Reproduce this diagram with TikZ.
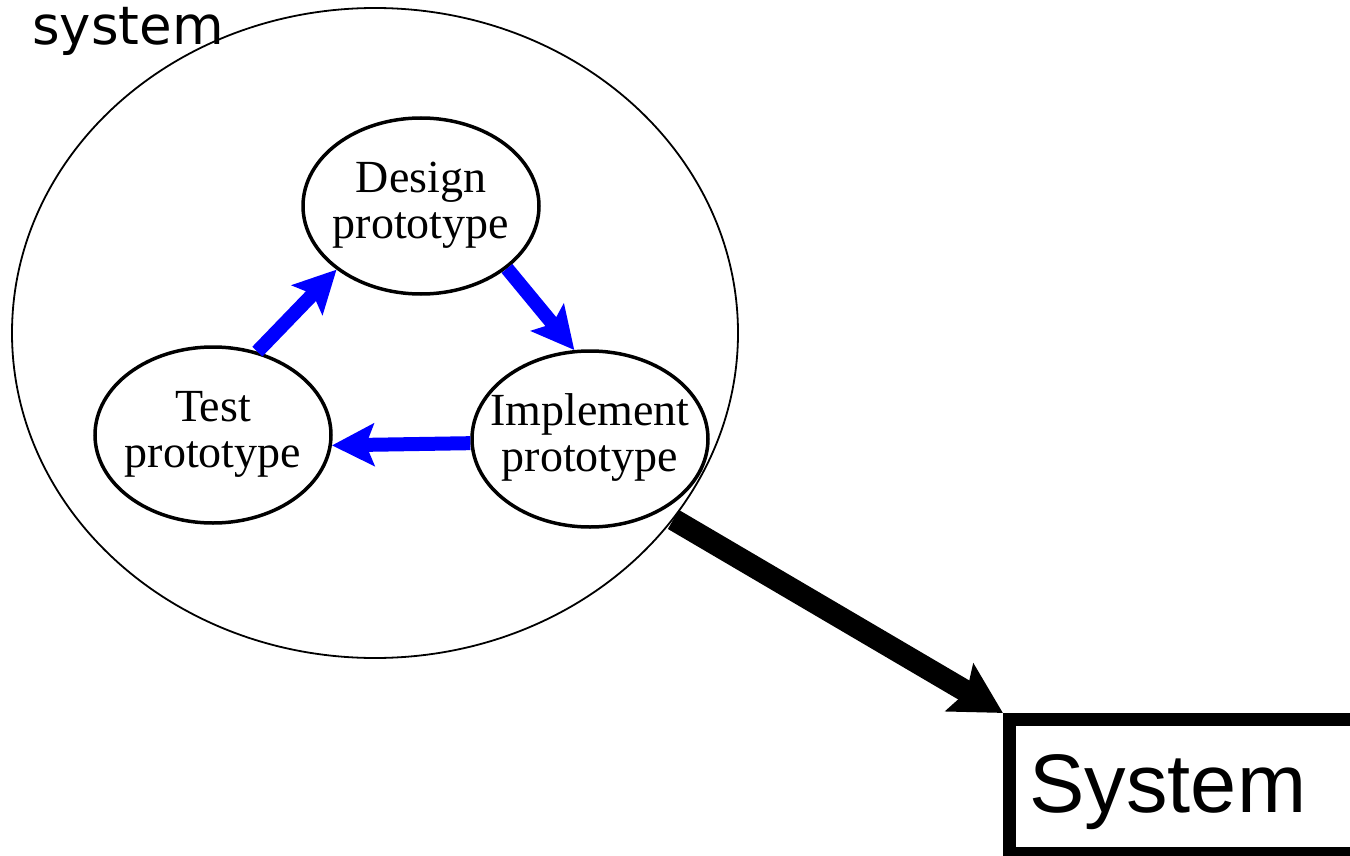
\documentclass[tikz,border=0pt]{standalone}
\usepackage{fontspec}
\setmainfont{Liberation Serif}
\newfontfamily\labelfont{DejaVu Sans}
\newfontfamily\boxfont{Liberation Sans}
\usetikzlibrary{arrows.meta,shapes.geometric}
\newcommand{\twolines}[2]{\makebox[0pt][c]{\begin{tabular}{@{}c@{}}#1\\#2\end{tabular}}}
\begin{document}
\begin{tikzpicture}[x=1pt,y=-1pt,
  proto/.style={draw, line width=3.5pt, ellipse, inner sep=0pt,
    minimum width=236pt, minimum height=176pt,
    font=\fontsize{46}{46}\selectfont},
  cyclearrow/.style={draw=blue, line width=14pt,
    -{Stealth[length=42pt, width=42pt, inset=8pt]}},
  bigarrow/.style={draw=black, line width=22pt,
    -{Stealth[length=50pt, width=54pt, inset=8pt]}}
]
\useasboundingbox (0,0) rectangle (1350,856);
% outer system ellipse
\node[draw, ellipse, line width=1.8pt, inner sep=0pt,
  minimum width=726pt, minimum height=650pt] (sys) at (375,333) {};
\node[anchor=base west, inner sep=0pt,
  font=\labelfont\fontsize{53}{60}\selectfont] (lbl) at (32,45) {system};
% cycle nodes
\node[proto] (design) at (421,206) {\twolines{Design}{prototype}};
\node[proto] (test) at (213,435) {\twolines{Test}{prototype}};
\node[proto] (impl) at (590,439) {\twolines{Implement}{prototype}};
% cycle arrows
\draw[cyclearrow] (test.62) -- (design.217);
\draw[cyclearrow] (design.-36) -- (impl.100);
\draw[cyclearrow] (impl.182) -- (test.-5);
% System box
\node[draw, line width=13pt, anchor=north west, minimum height=134pt,
  text width=350pt, inner xsep=20pt, align=left, text depth=6pt,
  font=\boxfont\fontsize{83}{90}\selectfont] (box) at (1003,713) {System};
% big arrow
\draw[bigarrow] (sys.-32) -- (box.north west);
\end{tikzpicture}
\end{document}
